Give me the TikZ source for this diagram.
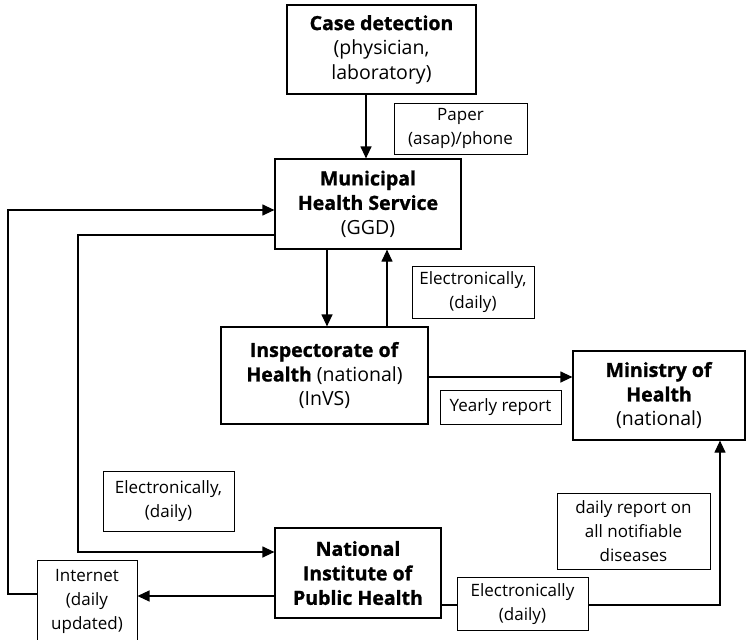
\documentclass[tikz,border=0pt]{standalone}
\usepackage{fontspec}
\setmainfont[BoldFeatures={FakeBold=1.2}]{Open Sans}
\usetikzlibrary{arrows.meta}
\begin{document}
\begin{tikzpicture}[x=1pt,y=-1pt,
  box/.style={draw,line width=1.2pt,inner sep=0pt,align=center,font=\fontsize{19.5}{24.5}\selectfont},
  lab/.style={box,line width=1pt,font=\fontsize{17}{24}\selectfont},
  conn/.style={line width=1.2pt},
  arr/.style={conn,-{Triangle[length=12pt,width=11pt]}}]
\useasboundingbox (0,0) rectangle (750,640);
\node[box,minimum width=189pt,minimum height=89pt] (case) at (381.5,49.5) {\textbf{Case detection}\\(physician,\\laboratory)};
\node[lab,minimum width=133pt,minimum height=51pt] (paper) at (460.5,128.5) {Paper\\(asap)/phone};
\node[box,minimum width=186pt,minimum height=90pt] (muni) at (368,204) {\textbf{Municipal}\\\textbf{Health Service}\\(GGD)};
\node[lab,minimum width=122pt,minimum height=52pt] (elecA) at (473,292) {Electronically,\\(daily)};
\node[box,minimum width=207pt,minimum height=97pt] (insp) at (324.5,375.5) {\textbf{Inspectorate of}\\\textbf{Health} (national)\\(InVS)};
\node[box,minimum width=172pt,minimum height=89pt] (mini) at (659,395.5) {\textbf{Ministry of}\\\textbf{Health}\\(national)};
\node[lab,minimum width=121pt,minimum height=34pt] (yearly) at (500.5,407) {Yearly report};
\node[lab,minimum width=131pt,minimum height=60pt] (elecB) at (168.5,501) {Electronically,\\(daily)};
\node[box,minimum width=166pt,minimum height=90pt] (natl) at (358,573) {\textbf{National}\\\textbf{Institute of}\\\textbf{Public Health}};
\node[lab,minimum width=100pt,minimum height=82pt] (inet) at (87,601) {Internet\\(daily\\updated)};
\node[lab,minimum width=131pt,minimum height=53pt] (elecC) at (522.5,604) {Electronically\\(daily)};
\node[lab,minimum width=153pt,minimum height=76pt] (daily) at (633.5,531) {daily report on\\all notifiable\\diseases};
% helper coordinates
\coordinate (xA) at (366,0);
\coordinate (xD) at (327,0);
\coordinate (xU) at (387,0);
\coordinate (yM) at (0,377);
\coordinate (yTop) at (0,210);
\coordinate (yIn) at (0,235);
\coordinate (yN) at (0,552);
\coordinate (yI) at (0,596);
\coordinate (yL) at (0,594);
\coordinate (yC) at (0,605);
\coordinate (xR) at (720,0);
\coordinate (xO) at (8,0);
\coordinate (xIn) at (78,0);
% connectors
\draw[arr] (case.south -| xA) -- (muni.north -| xA);
\draw[arr] (muni.south -| xD) -- (insp.north -| xD);
\draw[arr] (insp.north -| xU) -- (muni.south -| xU);
\draw[arr] (insp.east |- yM) -- (mini.west |- yM);
\draw[arr] (inet.west |- yL) -- (xO |- yL) -- (xO |- yTop) -- (muni.west |- yTop);
\draw[arr] (muni.west |- yIn) -- (xIn |- yIn) -- (xIn |- yN) -- (natl.west |- yN);
\draw[arr] (natl.west |- yI) -- (inet.east |- yI);
\draw[conn] (natl.east |- yC) -- (elecC.west |- yC);
\draw[arr] (elecC.east |- yC) -- (xR |- yC) -- (mini.south -| xR);
\end{tikzpicture}
\end{document}
